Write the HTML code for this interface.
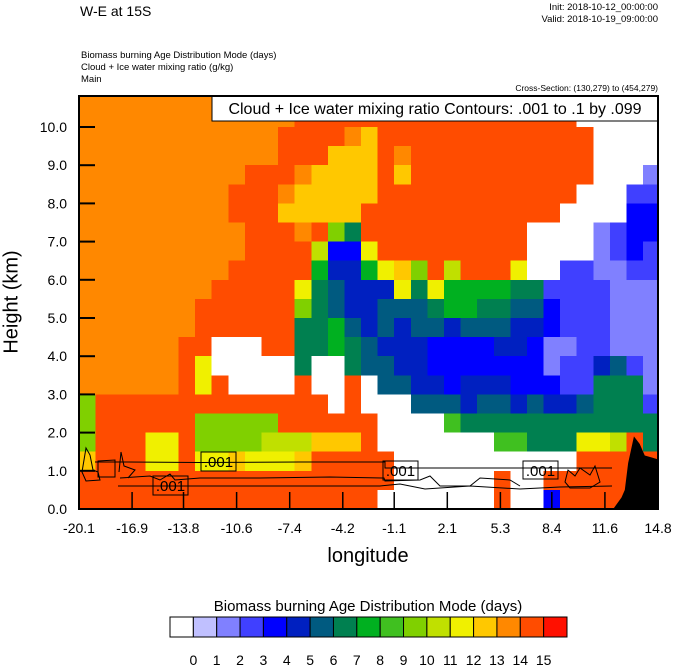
<!DOCTYPE html>
<html><head><meta charset="utf-8"><style>
body{margin:0;background:#fff;}
svg{display:block;font-family:"Liberation Sans",Arial,sans-serif;}
</style></head><body>
<svg id="chart" width="674" height="667" viewBox="0 0 674 667">
<defs><clipPath id="pc"><rect x="79" y="96" width="579" height="413"/></clipPath></defs>
<text x="80" y="16" font-size="14">W-E at 15S</text>
<text x="658" y="10" font-size="9.5" text-anchor="end">Init: 2018-10-12_00:00:00</text>
<text x="658" y="22" font-size="9.5" text-anchor="end">Valid: 2018-10-19_09:00:00</text>
<text x="81" y="58" font-size="9.5">Biomass burning Age Distribution Mode   (days)</text>
<text x="81" y="70" font-size="9.5">Cloud + Ice water mixing ratio   (g/kg)</text>
<text x="81" y="82" font-size="9.5">Main</text>
<text x="658" y="91" font-size="8.5" text-anchor="end">Cross-Section: (130,279) to (454,279)</text>
<g id="cells" clip-path="url(#pc)" shape-rendering="crispEdges"></g>
<g id="terrain" clip-path="url(#pc)"></g>
<g id="contours" clip-path="url(#pc)" fill="none" stroke="#000" stroke-width="1"></g>
<g id="axes"></g>
<rect x="212" y="96" width="446" height="25" fill="#fff" stroke="#000"/>
<text x="435" y="114" font-size="16" text-anchor="middle">Cloud + Ice water mixing ratio Contours: .001 to .1 by .099</text>
<rect x="79" y="96" width="579" height="413" fill="none" stroke="#000" stroke-width="2"/>
<text x="12" y="302" font-size="20" text-anchor="middle" transform="rotate(-90 12 302)" dominant-baseline="middle">Height (km)</text>
<text x="368" y="562" font-size="20" text-anchor="middle">longitude</text>
<text x="368" y="611" font-size="15" text-anchor="middle">Biomass burning Age Distribution Mode  (days)</text>
<g id="colorbar"></g>
</svg>
<script>
const heightTicks=[0,1,2,3,4,5,6,7,8,9,10];
const lonTicks=[-20.1,-16.9,-13.8,-10.6,-7.4,-4.2,-1.1,2.1,5.3,8.4,11.6,14.8];
const lonStart=-20.1, lonStep=1.0;
const rowTop=11.0, rowStep=0.5;
const levelColors=["#ffffff","#c0c0ff","#8080ff","#4040ff","#0000ff","#0020c0","#005a80","#008050","#00b020","#40c020","#80d000","#c0e000","#f0f000","#ffc800","#ff8800","#ff4c00","#ff1000"];
const levelLabels=["0","1","2","3","4","5","6","7","8","9","10","11","12","13","14","15"];
// field rows, top (10.5-11 km) to bottom (0-0.5 km); chars 0-9,a-g = level index
const fieldRows=[
"eeeeeeeeeeeeeeee"+"ffffffffffffff"+"00000",
"eeeeeeeeeeeee"+"fffffffffffffffff"+"00000",
"eeeeeeeeeeee"+"ffff"+"ed"+"fffffffffffff"+"0000",
"eeeeeeeeeeee"+"fff"+"ddd"+"fe"+"fffffffffff"+"0000",
"eeeeeeeeee"+"fff"+"e"+"dddd"+"fd"+"fffffffffff"+"000"+"2",
"eeeeeeeee"+"fff"+"e"+"ddddd"+"ffffffffffff"+"000"+"33",
"eeeeeeeee"+"fff"+"ddddd"+"f"+"fffffffffff"+"0000"+"44",
"eeeeeeeeee"+"fff"+"efa7f"+"fffffffff"+"0000"+"2344",
"eeeeeeeeee"+"ffff"+"b44c"+"fffffffff"+"0000"+"2343",
"eeeeeeeee"+"fffff"+"8558cdafb"+"fff"+"c"+"00"+"332233",
"eeeeeeee"+"fffff"+"c76555c7c8888773333222",
"eeeeeee"+"ffffff"+"a765566678877664333222",
"eeeeeee"+"ffffff"+"7786565665666554333222",
"eeeeee"+"ff"+"000"+"ff"+"7787655544445542233222",
"eeeeee"+"fc"+"00000"+"7007665544444442335632",
"eeeeee"+"fcf"+"0000"+"f00f0"+"66554555444337772",
"a"+"ffffffffffffff"+"0f000"+"666566565567773",
"a"+"ffffff"+"aaaaa"+"ffffff"+"0000"+"9"+"777777777777",
"a"+"fff"+"cc"+"f"+"aaaa"+"bbb"+"ddd"+"f"+"0000000"+"99"+"777"+"ccbf7",
"d"+"fff"+"cc"+"f"+"ccd"+"ccc"+"d"+"fffff"+"00000000000"+"fffff",
"fffffffffffffffffff"+"000000"+"f00"+"fffffff",
"ffffffffffffffffff"+"0000000"+"f004"+"ffffff"
];
// terrain outline (lon, km)
const terrainLon=[12.1,12.6,12.8,13.0,13.35,13.7,14.0,14.4,14.8];
const terrainH=[0,0.3,0.5,1.2,1.9,1.7,1.4,1.35,1.3];

const X0=79,X1=658,Y0=509,YTOP=96;
const pxPerDeg=(X1-X0)/(14.8-(-20.1));
const pxPerKm=38.2;
const xs=l=>X0+(l-lonStart)*pxPerDeg;
const ys=h=>Y0-h*pxPerKm;
const NS="http://www.w3.org/2000/svg";
function mk(tag,attrs,parent){const e=document.createElementNS(NS,tag);for(const k in attrs)e.setAttribute(k,attrs[k]);parent.appendChild(e);return e;}

const cells=document.getElementById('cells');
fieldRows.forEach((row,r)=>{
  for(let c=0;c<row.length;c++){
    const v=parseInt(row[c],17);
    if(isNaN(v))continue;
    const x=xs(lonStart+c*lonStep), w=xs(lonStart+(c+1)*lonStep)-x;
    const y=ys(rowTop-r*rowStep), h=ys(rowTop-(r+1)*rowStep)-y;
    const el=mk('rect',{x:x,y:y,width:w+0.6,height:h+0.6,fill:levelColors[v]},cells);
    
    
  }
});

const tg=document.getElementById('terrain');
let tp=terrainLon.map((l,i)=>xs(l)+','+ys(terrainH[i])).join(' ')+' '+xs(14.8)+','+ys(0);
const terr=mk('polygon',{points:tp,fill:'#000'},tg);



const cg=document.getElementById('contours');
const paths=[
"M95,462 L120,462 L200,462.5 L300,462 L385,462 L385,468 L480,468 L560,468 L612,468",
"M118,486 L250,486 L380,486 L400,484 L425,489 L470,486 L520,489 L560,487 L612,486",
"M120,478 L150,476 L160,480 L170,474 L175,480 L200,478 L260,478 L330,477 L384,478 L385,481 L420,480 L430,476 L440,486 L470,486 L480,478 L510,480 L520,486",
"M82,472 L86,448 L90,455 L93,470 L98,472 L100,480 L86,481 Z",
"M98,461 L115,460 L115,477 L98,477 Z",
"M119,472 L121,452 L124,466 L135,470 L128,478",
"M565,482 L568,470 L575,476 L580,468 L590,475 L595,466 L600,482 L590,488 L570,488 Z"
];
paths.forEach(d=>{const p=mk('path',{d:d},cg);});
[[201,452,35,19],[153,476,35,19],[383,461,35,19],[523,461,35,18]].forEach(b=>{
  const r=mk('rect',{x:b[0],y:b[1],width:b[2],height:b[3],fill:'none',stroke:'#000'},cg);
  
  
  const t=mk('text',{x:b[0]+b[2]/2,y:b[1]+15,'font-size':15,'text-anchor':'middle',fill:'#000',stroke:'none'},cg);
  t.textContent='.001';
  
  
});

const ax=document.getElementById('axes');
heightTicks.forEach(h=>{
  const y=ys(h);
  const l=mk('line',{x1:X0,x2:X0+16,y1:y,y2:y,stroke:'#000','stroke-width':2},ax);
  
  
  const t=mk('text',{x:67,y:y+5,'font-size':14,'text-anchor':'end'},ax);
  t.textContent=h.toFixed(1);
  
  
});
lonTicks.forEach(v=>{
  const x=xs(v);
  const l=mk('line',{x1:x,x2:x,y1:Y0,y2:Y0-17,stroke:'#000','stroke-width':1.5},ax);
  
  
  const t=mk('text',{x:x,y:533,'font-size':14,'text-anchor':'middle'},ax);
  t.textContent=v.toFixed(1);
  
  
});

const cb=document.getElementById('colorbar');
const cbX=170,cbW=(567-170)/17,cbY=617,cbH=20;
levelColors.forEach((col,i)=>{
  const r=mk('rect',{x:cbX+i*cbW,y:cbY,width:cbW,height:cbH,fill:col,stroke:'#000','stroke-width':1},cb);
  
  
});
levelLabels.forEach((lab,i)=>{
  const t=mk('text',{x:cbX+(i+1)*cbW,y:665,'font-size':14,'text-anchor':'middle'},cb);
  t.textContent=lab;
  
  
});
</script>
</body></html>
